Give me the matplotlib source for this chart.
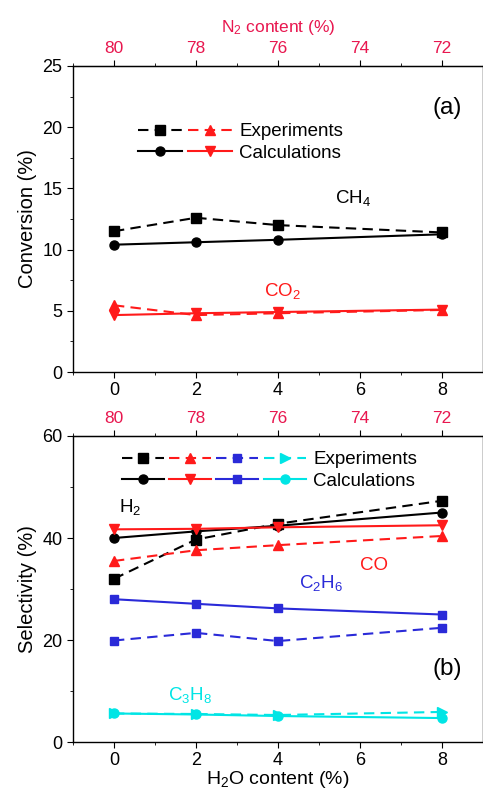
import matplotlib
matplotlib.use("Agg")
import matplotlib.pyplot as plt
from matplotlib.legend_handler import HandlerTuple
from matplotlib.ticker import MultipleLocator

plt.rcParams['font.family'] = ['Liberation Sans', 'DejaVu Sans']
plt.rcParams['mathtext.fontset'] = 'custom'
plt.rcParams['mathtext.rm'] = 'Liberation Sans'
plt.rcParams['mathtext.it'] = 'Liberation Sans:italic'
plt.rcParams['font.size'] = 13

# H2O content (%) and matching N2 content
h2o = [0, 2, 4, 8]
n2_ticks = [80, 78, 76, 74, 72]

# (a) conversion
ch4_exp = [11.5, 12.6, 12.0, 11.4]
ch4_calc = [10.4, 10.6, 10.8, 11.25]
co2_exp = [5.45, 4.65, 4.8, 5.07]
co2_calc = [4.65, 4.8, 4.9, 5.1]

# (b) selectivity
h2_exp = [32.0, 39.7, 42.8, 47.3]
h2_calc = [40.0, 41.3, 42.4, 45.0]
co_exp = [35.5, 37.6, 38.6, 40.4]
co_calc = [41.7, 41.8, 42.1, 42.5]
c2h6_exp = [19.9, 21.4, 19.8, 22.4]
c2h6_calc = [28.0, 27.1, 26.2, 25.0]
c3h8_exp = [5.6, 5.5, 5.3, 5.9]
c3h8_calc = [5.6, 5.4, 5.1, 4.7]

RED = '#ff1a1a'
PINK = '#e8174f'
BLUE = '#2a2ad8'
CYAN = '#00e5e5'

fig = plt.figure(figsize=(4.83, 7.91), dpi=100)
ax1 = fig.add_axes([0.151, 0.5297, 0.849, 0.3869])
ax2 = fig.add_axes([0.151, 0.0619, 0.849, 0.3869])


def style_axes(ax):
    ax.set_xlim(-1, 9)
    ax.set_xticks([0, 2, 4, 6, 8])
    ax.xaxis.set_minor_locator(MultipleLocator(1))
    ax.tick_params(which='both', direction='out', labelsize=13)
    ax.tick_params(which='major', length=4)
    ax.tick_params(which='minor', length=2)
    for s in ax.spines.values():
        s.set_linewidth(1.0)
    sec = ax.secondary_xaxis('top', functions=(lambda x: 80 - x, lambda n: 80 - n))
    sec.set_xticks(n2_ticks)
    sec.xaxis.set_minor_locator(MultipleLocator(1))
    sec.tick_params(which='both', direction='out', labelcolor=PINK, labelsize=12.5)
    sec.tick_params(which='major', length=4)
    sec.tick_params(which='minor', length=2)
    return sec


def line(ax, y, color, marker, ls, ms=6.5):
    return ax.plot(h2o, y, color=color, marker=marker, ls=ls, lw=1.5, ms=ms,
                   dashes=(5, 3) if ls == '--' else (None, None))[0]


# panel (a)
e1 = line(ax1, ch4_exp, 'black', 's', '--')
c1 = line(ax1, ch4_calc, 'black', 'o', '-')
e2 = line(ax1, co2_exp, RED, '^', '--')
c2 = line(ax1, co2_calc, RED, 'v', '-')
ax1.set_ylim(0, 25)
ax1.yaxis.set_major_locator(MultipleLocator(5))
ax1.yaxis.set_minor_locator(MultipleLocator(2.5))
sec1 = style_axes(ax1)
sec1.set_xlabel('N$_2$ content (%)', color=PINK, fontsize=12.5, labelpad=6)
ax1.set_ylabel('Conversion (%)', fontsize=14.5)
ax1.text(8.12, 21.6, '(a)', fontsize=17.5, ha='center', va='center')
ax1.text(5.83, 14.2, 'CH$_4$', fontsize=13.5, ha='center', va='center')
ax1.text(4.12, 6.6, 'CO$_2$', fontsize=13.5, ha='center', va='center', color=RED)
ax1.legend([(e1, e2), (c1, c2)], ['Experiments', 'Calculations'],
           handler_map={tuple: HandlerTuple(ndivide=None, pad=0.3)},
           handlelength=5.0, frameon=False, loc='center left',
           bbox_to_anchor=(0.118, 0.75), fontsize=13.5, labelspacing=0.25,
           handletextpad=0.4)

# panel (b)
he = line(ax2, h2_exp, 'black', 's', '--')
hc = line(ax2, h2_calc, 'black', 'o', '-')
oe = line(ax2, co_exp, RED, '^', '--')
oc = line(ax2, co_calc, RED, 'v', '-')
be = line(ax2, c2h6_exp, BLUE, 's', '--', ms=5.5)
bc = line(ax2, c2h6_calc, BLUE, 's', '-', ms=5.5)
ce = line(ax2, c3h8_exp, CYAN, '>', '--')
cc = line(ax2, c3h8_calc, CYAN, 'o', '-')
ax2.set_ylim(0, 60)
ax2.yaxis.set_major_locator(MultipleLocator(20))
ax2.yaxis.set_minor_locator(MultipleLocator(10))
style_axes(ax2)
ax2.set_xlabel('H$_2$O content (%)', fontsize=14, labelpad=0)
ax2.set_ylabel('Selectivity (%)', fontsize=14.5)
ax2.text(8.12, 14.3, '(b)', fontsize=17.5, ha='center', va='center')
ax2.text(0.4, 46.0, 'H$_2$', fontsize=13.5, ha='center', va='center')
ax2.text(6.34, 34.7, 'CO', fontsize=13.5, ha='center', va='center', color=RED)
ax2.text(5.05, 31.2, 'C$_2$H$_6$', fontsize=13.5, ha='center', va='center', color=BLUE)
ax2.text(1.85, 9.2, 'C$_3$H$_8$', fontsize=13.5, ha='center', va='center', color=CYAN)
ax2.legend([(he, oe, be, ce), (hc, oc, bc, cc)], ['Experiments', 'Calculations'],
           handler_map={tuple: HandlerTuple(ndivide=None, pad=0.3)},
           handlelength=9.8, frameon=False, loc='center left',
           bbox_to_anchor=(0.078, 0.887), fontsize=13.5, labelspacing=0.25,
           handletextpad=0.4)

fig.savefig('out.png', dpi=100)
